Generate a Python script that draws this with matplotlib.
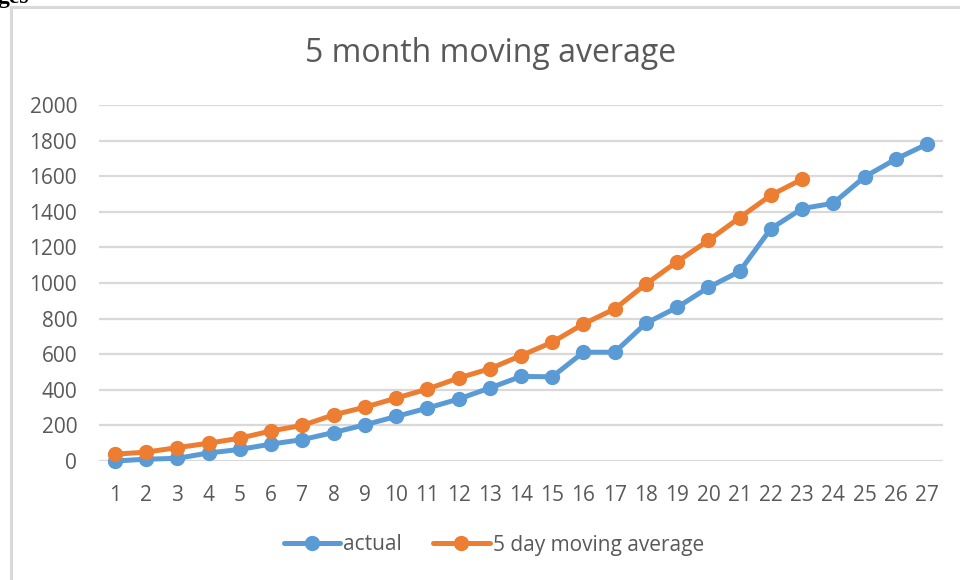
import matplotlib.pyplot as plt
from matplotlib.patches import Rectangle

months = list(range(1, 28))
actual = [0, 10, 15, 45, 65, 95, 120, 160, 203, 250, 297, 348, 410, 475,
          473, 611, 611, 774, 863, 975, 1065, 1305, 1418, 1448, 1596, 1696, 1780]
moving_avg = [38, 50, 75, 100, 128, 169, 200, 259, 302, 353, 404, 466, 518,
              592, 667, 770, 854, 994, 1120, 1239, 1367, 1493, 1583]
y_ticks = [0, 200, 400, 600, 800, 1000, 1200, 1400, 1600, 1800, 2000]

blue = '#5B9BD5'
orange = '#ED7D31'
grey_text = '#595959'
grid_col = '#D9D9D9'

plt.rcParams['font.family'] = ['Open Sans', 'DejaVu Sans']

fig = plt.figure(figsize=(9.6, 5.8), dpi=100)
ax = fig.add_axes([0.1035, 0.2052, 0.8784, 0.6138])

# chart border (only top/left edge visible in the crop)
fig.patches.append(Rectangle((11 / 960, -0.1), 1.2, 1 - 7 / 580 + 0.1,
                             transform=fig.transFigure, fill=False,
                             edgecolor=grid_col, linewidth=2.2))
fig.text(-0.003, 1 - 3 / 580, 'ges', family='Liberation Serif',
         fontweight='bold', fontsize=17, va='baseline', ha='left', color='black')

ax.plot(months, actual, color=blue, lw=3.6, marker='o', ms=10,
        label='actual', solid_capstyle='round')
ax.plot(months[:len(moving_avg)], moving_avg, color=orange, lw=3.6,
        marker='o', ms=10, label='5 day moving average', solid_capstyle='round')

ax.set_xlim(0.5, 27.5)
ax.set_ylim(0, 2000)
ax.set_xticks(months)
ax.set_yticks(y_ticks)
ax.tick_params(length=0, labelsize=15, colors=grey_text)
ax.tick_params(axis='x', pad=17)
ax.tick_params(axis='y', pad=16)
ax.grid(axis='y', color=grid_col, lw=1.6)
ax.set_axisbelow(True)
for s in ax.spines.values():
    s.set_visible(False)
for ln in ax.lines:
    ln.set_clip_on(False)

fig.text(491 / 960, 1 - 53 / 580, '5 month moving average', fontsize=23,
         color=grey_text, ha='center', va='center')

fig.legend(loc='center', bbox_to_anchor=(494 / 960, 1 - 545 / 580), ncol=2,
           frameon=False, fontsize=15, handlelength=2.7, handletextpad=0.15,
           columnspacing=1.5, labelcolor=grey_text)

fig.savefig('out.png', dpi=100)
